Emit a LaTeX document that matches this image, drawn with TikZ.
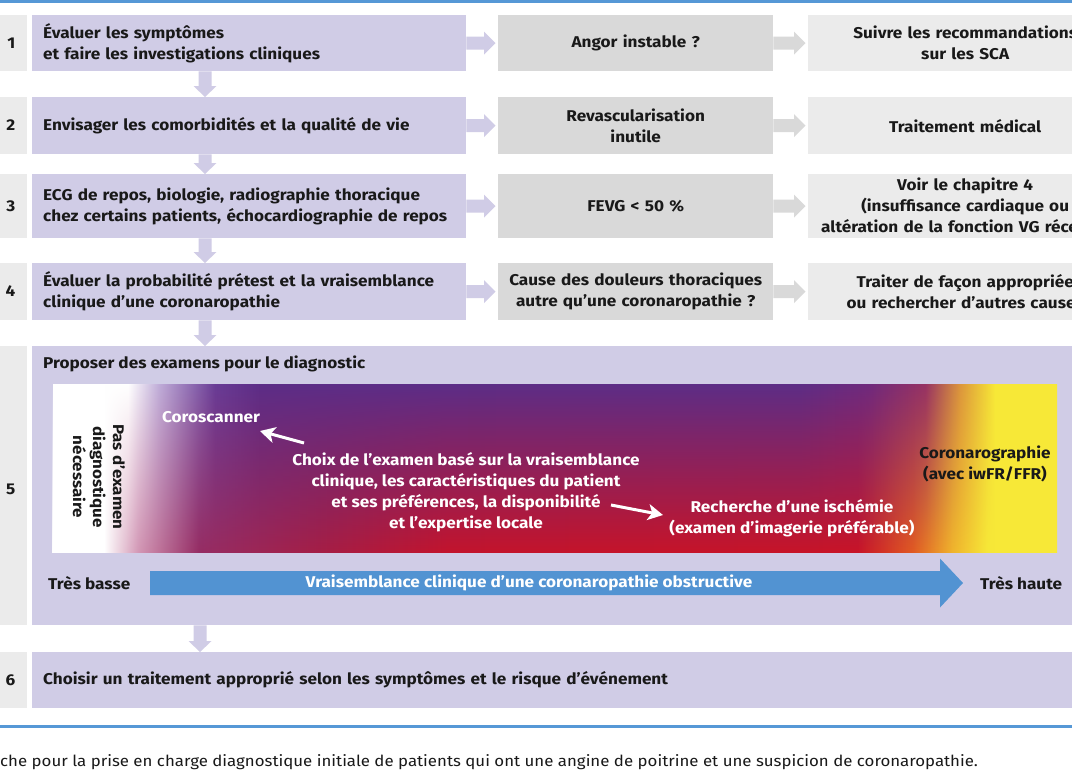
\documentclass[tikz,border=0pt]{standalone}
\usepackage{fontspec}
\setmainfont{Fira Sans}[FakeStretch=1.1]
\usetikzlibrary{fadings,arrows.meta,calc}
\definecolor{lav}{RGB}{208,204,230}
\definecolor{gmid}{RGB}{217,217,217}
\definecolor{glight}{RGB}{235,235,235}
\definecolor{bluel}{RGB}{86,152,214}
\definecolor{bluearr}{RGB}{82,147,210}
\definecolor{txt}{RGB}{25,25,25}
\newcommand\bxfont{\bfseries\fontsize{15.6}{21}\selectfont}
\pgfdeclarehorizontalshading{topgrad}{100bp}{rgb(0bp)=(1,1,1); rgb(28.74bp)=(1,1,1); rgb(30.33bp)=(0.745,0.667,0.843); rgb(33.07bp)=(0.412,0.235,0.588); rgb(35.31bp)=(0.361,0.176,0.529); rgb(62.2bp)=(0.365,0.176,0.525); rgb(65.69bp)=(0.439,0.165,0.490); rgb(68.43bp)=(0.588,0.196,0.392); rgb(70.17bp)=(0.863,0.588,0.235); rgb(71.91bp)=(0.969,0.910,0.216); rgb(100bp)=(0.969,0.910,0.216)}
\pgfdeclarehorizontalshading{botgrad}{100bp}{rgb(0bp)=(1,1,1); rgb(27.59bp)=(1,1,1); rgb(29.33bp)=(0.824,0.588,0.706); rgb(32.32bp)=(0.588,0.176,0.392); rgb(38.3bp)=(0.647,0.118,0.275); rgb(44.77bp)=(0.765,0.078,0.176); rgb(65.19bp)=(0.784,0.078,0.157); rgb(67.93bp)=(0.882,0.353,0.137); rgb(69.92bp)=(0.941,0.706,0.176); rgb(71.66bp)=(0.969,0.910,0.216); rgb(100bp)=(0.969,0.910,0.216)}
\tikzfading[name=redfade, top color=transparent!100, middle color=transparent!65, bottom color=transparent!0]
\tikzset{
  box/.style={inner xsep=11pt, inner ysep=0pt, font=\bxfont, text=txt, anchor=north west},
  lbox/.style={box, fill=lav, text width=412pt, minimum height=#1, align=left},
  mbox/.style={box, fill=gmid, text width=253pt, minimum height=#1, align=center},
  rbox/.style={box, fill=glight, text width=292pt, minimum height=#1, align=center},
  numbox/.style={fill=glight, anchor=north west, minimum width=37pt, minimum height=#1, inner sep=0pt},
  num/.style={font=\bxfont, text=txt, anchor=east, inner sep=0pt},
  btext/.style={font=\bxfont, text=txt},
  wtext/.style={font=\bxfont, text=white},
  blueline/.style={draw=bluel, line width=3pt},
  warrow/.style={draw=white, line width=3pt, -{Stealth[length=15pt,width=16pt,inset=4pt]}},
  capt/.style={font=\fontsize{15.3}{18}\selectfont, text=txt, inner sep=0pt}
}
\newcommand\rarrow[3]{\fill[#1] let \p1=(#2.east), \p2=(#3.west) in
  (\x1,\y1+6.5pt) -- (\x2-14pt,\y1+6.5pt) -- (\x2-14pt,\y1+11.5pt) -- (\x2-2.5pt,\y1)
  -- (\x2-14pt,\y1-11.5pt) -- (\x2-14pt,\y1-6.5pt) -- (\x1,\y1-6.5pt) -- cycle;}
\newcommand\darrow[4]{\fill[#1] let \p1=(#2.south), \p2=(#3.north) in
  (#4pt-6.5pt,\y1) -- (#4pt-6.5pt,\y2+11pt) -- (#4pt-11.5pt,\y2+11pt) -- (#4pt,\y2)
  -- (#4pt+11.5pt,\y2+11pt) -- (#4pt+6.5pt,\y2+11pt) -- (#4pt+6.5pt,\y1) -- cycle;}
\begin{document}
\begin{tikzpicture}[x=1pt,y=-1pt]
\useasboundingbox (0,0) rectangle (1072,772);
\clip (0,0) rectangle (1072,772);
\fill[white] (0,0) rectangle (1072,772);
\draw[blueline] (0,1.5) -- (1072,1.5);
\draw[blueline] (0,726.5) -- (1072,726.5);
% row 1
\node[numbox=56pt] (n1) at (-10,15) {};
\node[num] (k1) at (15.5,43) {1};
\node[lbox=56pt] (l1) at (32,15) {Évaluer les symptômes\\et faire les investigations cliniques};
\node[mbox=56pt] (m1) at (498,15) {Angor instable ?};
\node[rbox=56pt] (r1) at (808,15) {Suivre les recommandations\\sur les SCA};
% row 2
\node[numbox=57pt] (n2) at (-10,97) {};
\node[num] (k2) at (15.5,125.5) {2};
\node[lbox=57pt] (l2) at (32,97) {Envisager les comorbidités et la qualité de vie};
\node[mbox=57pt] (m2) at (498,97) {Revascularisation\\inutile};
\node[rbox=57pt] (r2) at (808,97) {Traitement médical};
% row 3
\node[numbox=64pt] (n3) at (-10,174) {};
\node[num] (k3) at (15.5,206) {3};
\node[lbox=64pt] (l3) at (32,174) {ECG de repos, biologie, radiographie thoracique\\chez certains patients, échocardiographie de repos};
\node[mbox=64pt] (m3) at (498,174) {FEVG < 50 \%};
\node[rbox=64pt] (r3) at (808,174) {Voir le chapitre 4\\(insuffisance cardiaque ou\\altération de la fonction VG récente)};
% row 4
\node[numbox=57pt] (n4) at (-10,263) {};
\node[num] (k4) at (15.5,291.5) {4};
\node[lbox=57pt] (l4) at (32,263) {Évaluer la probabilité prétest et la vraisemblance\\clinique d’une coronaropathie};
\node[mbox=57pt] (m4) at (498,263) {Cause des douleurs thoraciques\\autre qu’une coronaropathie ?};
\node[rbox=57pt] (r4) at (808,263) {Traiter de façon appropriée\\ou rechercher d'autres causes};
% row 5
\node[numbox=279pt] (n5) at (-10,346) {};
\node[num] (k5) at (15.5,489) {5};
\node[fill=lav, anchor=north west, minimum width=1100pt, minimum height=279pt, inner sep=0pt] (l5) at (32,346) {};
\node[btext, anchor=west, inner sep=0pt] (t5) at (43,364) {Proposer des examens pour le diagnostic};
% row 6
\node[numbox=56pt] (n6) at (-10,652) {};
\node[num] (k6) at (15.5,680) {6};
\node[box, fill=lav, text width=1060pt, minimum height=56pt, align=left] (l6) at (32,652) {Choisir un traitement approprié selon les symptômes et le risque d’événement};
% arrows
\rarrow{lav}{l1}{m1}
\rarrow{gmid}{m1}{r1}
\rarrow{lav}{l2}{m2}
\rarrow{gmid}{m2}{r2}
\rarrow{lav}{l3}{m3}
\rarrow{gmid}{m3}{r3}
\rarrow{lav}{l4}{m4}
\rarrow{gmid}{m4}{r4}
\darrow{lav}{l1}{l2}{205}
\darrow{lav}{l2}{l3}{205}
\darrow{lav}{l3}{l4}{205}
\darrow{lav}{l4}{l5}{205}
\darrow{lav}{l5}{l6}{200}
% gradient
\shade[shading=topgrad] (53,384) rectangle (1057,552);
\shade[shading=botgrad, path fading=redfade] (53,384) rectangle (1057,552);
\node[btext, rotate=-90, align=center, font=\bxfont\fontsize{15.4}{20}\selectfont] (pas) at (99,477) {Pas d'examen\\diagnostique\\nécessaire};
\node[wtext, anchor=west, inner sep=0pt] (coro) at (162,417) {Coroscanner};
\node[wtext, align=center, inner sep=0pt] (choix) at (466,492.5) {Choix de l’examen basé sur la vraisemblance\\clinique, les caractéristiques du patient\\et ses préférences, la disponibilité\\et l’expertise locale};
\node[wtext, align=center, inner sep=0pt] (rech) at (792,518.5) {Recherche d’une ischémie\\(examen d’imagerie préférable)};
\node[btext, align=center, inner sep=0pt] (corog) at (985,463.5) {Coronarographie\\(avec iwFR/FFR)};
\coordinate (c1a) at (304,443);
\coordinate (c1b) at (260,431);
\draw[warrow] (c1a) -- (c1b);
\coordinate (c2a) at (611,505);
\coordinate (c2b) at (663,515);
\draw[warrow] (c2a) -- (c2b);
% blue arrow
\node[btext, anchor=west, inner sep=0pt] (tb) at (48,583) {Très basse};
\node[btext, anchor=west, inner sep=0pt] (th) at (980,583) {Très haute};
\fill[bluearr] let \p1=(tb.east), \p2=(th.west) in
  (150pt,\y1+12pt) -- (\x2-40pt,\y1+12pt) -- (\x2-40pt,\y1+24.5pt) -- (\x2-17pt,\y1)
  -- (\x2-40pt,\y1-24.5pt) -- (\x2-40pt,\y1-12pt) -- (150pt,\y1-12pt) -- cycle;
\node[wtext, inner sep=0pt] (vr) at (529,583) {Vraisemblance clinique d’une coronaropathie obstructive};
% caption
\node[capt, anchor=west] (cap) at (0,762) {che pour la prise en charge diagnostique initiale de patients qui ont une angine de poitrine et une suspicion de coronaropathie.};
\end{tikzpicture}
\end{document}
